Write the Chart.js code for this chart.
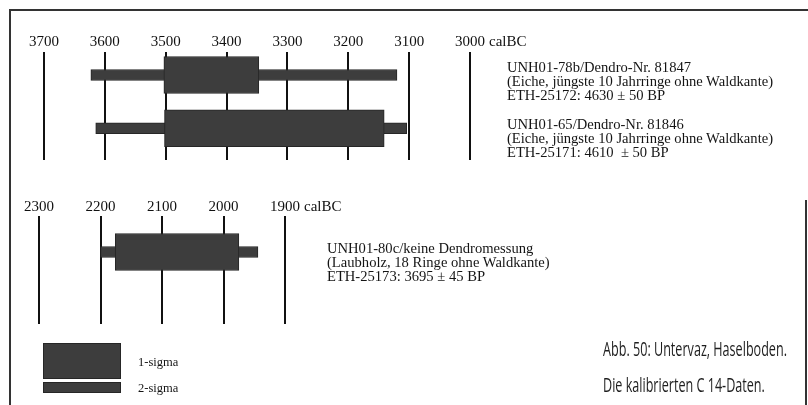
<!DOCTYPE html>
<html>
<head>
<meta charset="utf-8">
<script src="https://cdn.jsdelivr.net/npm/chart.js@4.4.0/dist/chart.umd.min.js"></script>
<style>
  body { margin: 0; background: #fff; }
  #wrap { position: relative; width: 808px; height: 405px; overflow: hidden; font-family: "Liberation Serif", serif; color: #141414; }
  canvas { position: absolute; left: 0; top: 0; }
  .frame { position: absolute; background: #333; }
  .note { position: absolute; font-size: 14.6px; line-height: 14px; white-space: nowrap; }
  .swatch { position: absolute; background: #3d3d3d; border: 1px solid #262626; box-sizing: border-box; }
  .key { position: absolute; font-size: 12.5px; line-height: 12px; }
  .caption { position: absolute; left: 603px; font-family: "Open Sans", sans-serif; font-size: 20px; line-height: 22px; color: #1e1e1e; white-space: nowrap; transform: scaleX(0.63); transform-origin: left center; }
</style>
</head>
<body>
<div id="wrap">
  <canvas id="topChart" width="808" height="405"></canvas>
  <canvas id="bottomChart" width="808" height="405"></canvas>

  <div class="frame" style="left:10px;top:9px;width:798px;height:2px"></div>
  <div class="frame" style="left:9px;top:9px;width:2px;height:396px"></div>
  <div class="frame" style="left:805px;top:200px;width:2px;height:205px"></div>

  <div class="note" style="left:507px;top:60px">UNH01-78b/Dendro-Nr. 81847<br>(Eiche, jüngste 10 Jahrringe ohne Waldkante)<br>ETH-25172: 4630 ± 50 BP</div>
  <div class="note" style="left:507px;top:117px">UNH01-65/Dendro-Nr. 81846<br>(Eiche, jüngste 10 Jahrringe ohne Waldkante)<br>ETH-25171: 4610 &nbsp;± 50 BP</div>
  <div class="note" style="left:327px;top:241px">UNH01-80c/keine Dendromessung<br>(Laubholz, 18 Ringe ohne Waldkante)<br>ETH-25173: 3695 ± 45 BP</div>

  <div class="swatch" style="left:43px;top:343px;width:78px;height:36px"></div>
  <div class="swatch" style="left:43px;top:382px;width:78px;height:11px"></div>
  <div class="key" style="left:138px;top:356px">1-sigma</div>
  <div class="key" style="left:138px;top:382px">2-sigma</div>

  <div class="caption" style="top:338px">Abb. 50: Untervaz, Haselboden.</div>
  <div class="caption" style="top:374px">Die kalibrierten C 14-Daten.</div>
</div>
<script>
// calibrated ranges, calBC (older end first)
const topLabels = ['UNH01-78b', 'UNH01-65'];
const topSigma1 = [[3503, 3347], [3502, 3141]];
const topSigma2 = [[3623, 3120], [3615, 3104]];
const topTicks = [3700, 3600, 3500, 3400, 3300, 3200, 3100, 3000];

const bottomLabels = ['UNH01-80c'];
const bottomSigma1 = [[2176, 1975]];
const bottomSigma2 = [[2200, 1944]];
const bottomTicks = [2300, 2200, 2100, 2000, 1900];

const barFill = '#3d3d3d';
const barEdge = '#262626';

// draws "calBC" after the youngest tick label
const calBC = {
  id: 'calBC',
  afterDraw(chart, args, opts) {
    const xs = chart.scales.x;
    const ctx = chart.ctx;
    const last = opts.ticks[opts.ticks.length - 1];
    ctx.save();
    ctx.font = '15px "Liberation Serif"';
    ctx.fillStyle = '#111';
    ctx.textBaseline = 'middle';
    const x = xs.getPixelForValue(last) + ctx.measureText(String(last)).width / 2 + 4;
    ctx.fillText('calBC', x, chart.chartArea.top - opts.pad - 9);
    ctx.restore();
  }
};

function makeChart(id, labels, sigma1, sigma2, ticks, padding, yMin, yMax, labelPad) {
  const toData = arr => arr.map((r, i) => ({ x: r, y: i }));
  return new Chart(document.getElementById(id), {
    type: 'bar',
    data: {
      labels: labels,
      datasets: [{
        label: '1-sigma',
        data: toData(sigma1),
        backgroundColor: barFill,
        borderColor: barEdge,
        borderWidth: 1,
        borderSkipped: false,
        barThickness: 37,
        grouped: false,
        order: 1
      }, {
        label: '2-sigma',
        data: toData(sigma2),
        backgroundColor: barFill,
        borderColor: barEdge,
        borderWidth: 1,
        borderSkipped: false,
        barThickness: 11,
        grouped: false,
        order: 2
      }]
    },
    options: {
      indexAxis: 'y',
      responsive: false,
      animation: false,
      layout: { padding: padding, autoPadding: false },
      scales: {
        x: {
          type: 'linear',
          position: 'top',
          reverse: true,
          beginAtZero: false,
          min: Math.min(...ticks),
          max: Math.max(...ticks),
          afterBuildTicks: s => { s.ticks = ticks.map(v => ({ value: v })); },
          afterFit: s => { s.height = 20; },
          grid: { color: '#111', lineWidth: 2, drawTicks: false },
          border: { display: false },
          ticks: {
            padding: labelPad,
            maxRotation: 0,
            autoSkip: false,
            color: '#111',
            font: { family: 'Liberation Serif', size: 15 },
            callback: v => String(v)
          }
        },
        y: {
          type: 'linear',
          display: false,
          reverse: true,
          offset: false,
          min: yMin,
          max: yMax
        }
      },
      plugins: {
        legend: { display: false },
        tooltip: { enabled: false },
        calBC: { ticks: ticks, pad: labelPad }
      }
    },
    plugins: [calBC]
  });
}

makeChart('topChart', topLabels, topSigma1, topSigma2, topTicks,
  { left: 44, right: 338, top: 32, bottom: 245 }, -0.431, 1.595, 1);
makeChart('bottomChart', bottomLabels, bottomSigma1, bottomSigma2, bottomTicks,
  { left: 39, right: 523, top: 196, bottom: 81 }, -0.333, 0.667, 0);
</script>
</body>
</html>
